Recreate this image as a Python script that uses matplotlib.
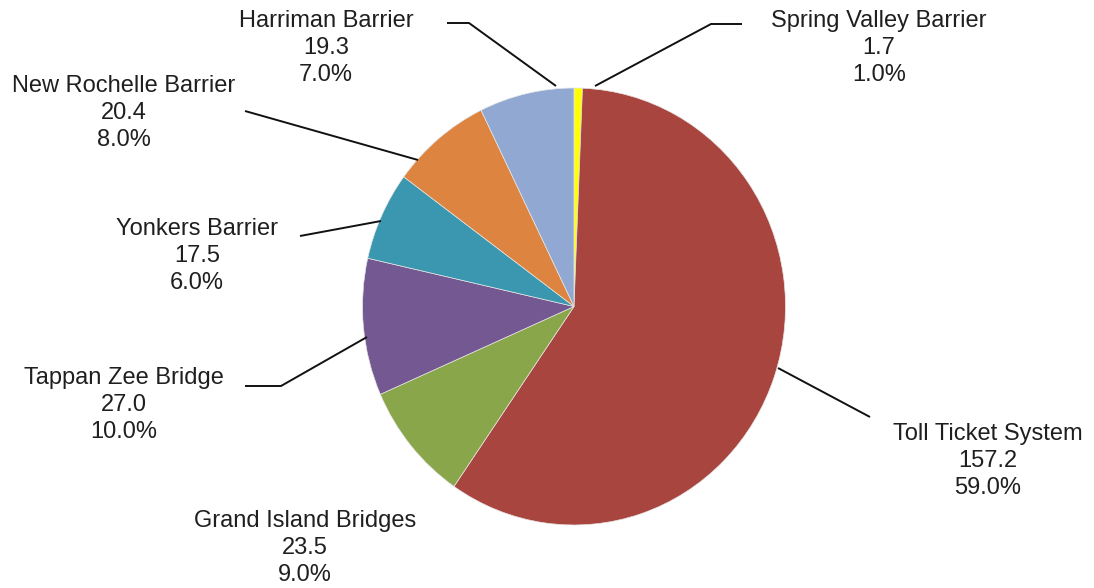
import matplotlib.pyplot as plt

# Toll revenue by facility (values in $M, percentages as published)
facilities = ['Spring Valley Barrier', 'Toll Ticket System', 'Grand Island Bridges',
              'Tappan Zee Bridge', 'Yonkers Barrier', 'New Rochelle Barrier',
              'Harriman Barrier']
values = [1.7, 157.2, 23.5, 27.0, 17.5, 20.4, 19.3]
pct_labels = ['1.0%', '59.0%', '9.0%', '10.0%', '6.0%', '8.0%', '7.0%']
colors = ['#FFFF00', '#A9453F', '#8AA64B', '#735891', '#3A97AF', '#DD8440', '#91A9D2']

# label block centres and leader line paths, in pixels from top-left
label_pos = [(879, 48), (988, 461), (305, 548), (124, 405), (197, 256), (124, 113), (326, 48)]
leaders = [
    [(742, 24), (711, 24), (595, 86)],
    [(778, 368), (870, 417)],
    None,
    [(245, 386), (281, 386), (367, 337)],
    [(300, 236), (381, 221)],
    [(245, 111), (418, 160)],
    [(447, 23), (469, 23), (556, 86)],
]

W, H = 1094, 588
fig = plt.figure(figsize=(W / 100, H / 100), dpi=100)

# pie box: x 362..785, y 88..525
px0, px1, py0, py1 = 362.5, 785.5, 88, 525
ax_pie = fig.add_axes([px0 / W, 1 - py1 / H, (px1 - px0) / W, (py1 - py0) / H])
ax_pie.pie(values, colors=colors, startangle=90, counterclock=False, radius=1,
           wedgeprops=dict(edgecolor='#e6e6e6', linewidth=0.5))
ax_pie.set_aspect('auto')
ax_pie.set_xlim(-1, 1)
ax_pie.set_ylim(-1, 1)
ax_pie.axis('off')

# overlay in pixel coordinates for the labels
ax = fig.add_axes([0, 0, 1, 1])
ax.set_xlim(0, W)
ax.set_ylim(H, 0)
ax.axis('off')
ax.patch.set_alpha(0)

for name, v, p, (x, y), path in zip(facilities, values, pct_labels, label_pos, leaders):
    ax.text(x, y, f'{name}\n{v:.1f}\n{p}', ha='center', va='center',
            fontsize=17, family='Liberation Sans', color='#1f1f1f', linespacing=1.27)
    if path:
        xs, ys = zip(*path)
        ax.plot(xs, ys, color='#111111', lw=1.4, solid_capstyle='butt')

fig.savefig('out.png', dpi=100)
